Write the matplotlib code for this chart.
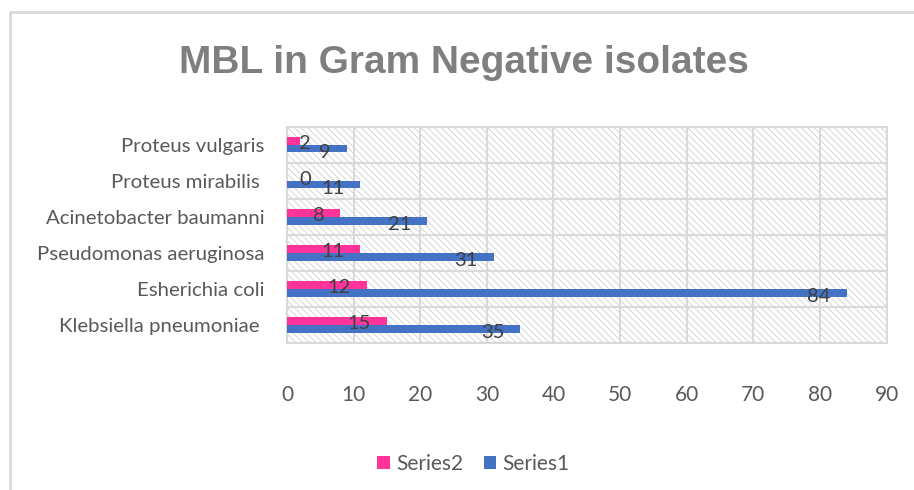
import matplotlib.pyplot as plt
from matplotlib.patches import Rectangle
from matplotlib.lines import Line2D

categories = ['Klebsiella pneumoniae ', 'Esherichia coli', 'Pseudomonas aeruginosa',
              'Acinetobacter baumanni', 'Proteus mirabilis ', 'Proteus vulgaris']
series1 = [35, 84, 31, 21, 11, 9]
series2 = [15, 12, 11, 8, 0, 2]
xticks = [0, 10, 20, 30, 40, 50, 60, 70, 80, 90]

plt.rcParams['font.family'] = ['Lato', 'DejaVu Sans']
plt.rcParams['hatch.linewidth'] = 0.7
plt.rcParams['hatch.color'] = '#D6D6D6'

fig = plt.figure(figsize=(9.14, 4.9), dpi=100)
ax = fig.add_axes([0.314, 0.300, 0.656, 0.441])

# outer chart border (only left and top visible in the crop)
fig.lines.append(Line2D([0.0105, 0.0105, 1.0], [0.0, 0.975, 0.975], transform=fig.transFigure,
                        color='#D9D9D9', linewidth=2))

# hatched plot-area background
ax.add_patch(Rectangle((0, -0.5), 90, 6, facecolor='white', edgecolor='#D6D6D6',
                       hatch='\\\\\\\\\\', linewidth=0, zorder=0))

y = list(range(len(categories)))
h = 0.21
pink = '#FF3399'
blue = '#4472C4'
ax.barh([i + h / 2 for i in y], series2, height=h, color=pink, zorder=3, label='Series2')
ax.barh([i - h / 2 for i in y], series1, height=h, color=blue, zorder=3, label='Series1')

# data labels, inside end like Excel
for i in y:
    ax.text(max(series2[i] - 2.4, 3.6), i + 0.05, str(series2[i]), ha='right', va='center',
            fontsize=14.5, color='#404040', zorder=4)
    ax.text(max(series1[i] - 2.4, 3.6), i - 0.2, str(series1[i]), ha='right', va='center',
            fontsize=14.5, color='#404040', zorder=4)

ax.set_xlim(0, 90)
ax.set_ylim(-0.5, 5.5)
ax.set_xticks(xticks)
ax.set_yticks(y)
ax.set_yticklabels(categories)
ax.set_yticks([i + 0.5 for i in range(-1, 6)], minor=True)
ax.tick_params(axis='y', which='both', length=0, pad=16, labelsize=14.7, labelcolor='#595959')
ax.tick_params(axis='x', length=0, pad=30, labelsize=15, labelcolor='#595959')
ax.grid(axis='x', color='#D9D9D9', linewidth=1.5, zorder=1)
ax.grid(axis='y', which='minor', color='#D9D9D9', linewidth=1.5, zorder=1)
ax.set_axisbelow(True)
for s in ax.spines.values():
    s.set_color('#D9D9D9')
    s.set_linewidth(1.5)

fig.text(0.508, 0.872, 'MBL in Gram Negative isolates', ha='center', va='center',
         fontsize=28, fontweight='bold', color='#7F7F7F', family=['Liberation Sans', 'DejaVu Sans'])

ax.legend(loc='center', bbox_to_anchor=(0.518, 0.053), bbox_transform=fig.transFigure,
          ncol=2, frameon=False, fontsize=15, labelcolor='#595959',
          handlelength=0.6, handleheight=0.6, handletextpad=0.3, columnspacing=1.0)

fig.savefig('out.png', dpi=100)
